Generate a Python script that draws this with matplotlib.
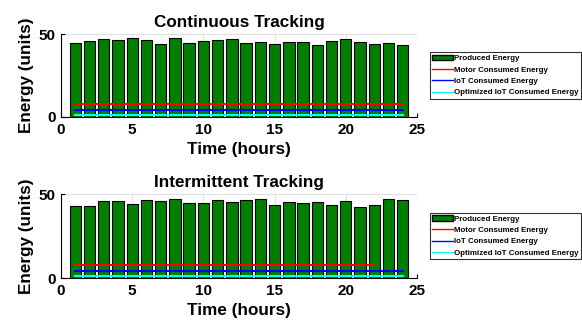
import matplotlib.pyplot as plt
from matplotlib.patches import Patch
from matplotlib.lines import Line2D

plt.rcParams['font.family'] = ['Liberation Sans', 'DejaVu Sans']
plt.rcParams['font.weight'] = 'bold'

hours = list(range(1, 25))
produced_cont = [44.6, 45.6, 47.0, 46.2, 47.4, 46.6, 43.8, 47.6, 44.8, 45.8, 46.4, 47.0,
                 44.6, 45.2, 43.8, 45.2, 45.2, 43.6, 46.0, 47.2, 45.0, 43.8, 44.4, 43.2]
produced_int = [43.1, 42.8, 45.6, 45.6, 44.0, 46.2, 45.8, 47.0, 44.8, 44.8, 46.4, 45.2,
                46.2, 47.0, 43.5, 45.4, 44.6, 45.4, 43.5, 45.8, 42.5, 43.5, 47.0, 46.2]
motor_energy = 8
iot_energy = 4
opt_iot_energy = 1
motor_hours_cont = (1, 24)
motor_hours_int = (1, 22)

titles = ["Continuous Tracking", "Intermittent Tracking"]
legend_labels = ["Produced Energy", "Motor Consumed Energy", "IoT Consumed Energy",
                 "Optimized IoT Consumed Energy"]


def draw_panel(ax, produced, motor_span, title):
    ax.bar(hours, produced, width=0.8, color='#007f00', edgecolor='black', linewidth=0.8, zorder=2)
    ax.plot(motor_span, [motor_energy, motor_energy], c='red', lw=1.5, zorder=3)
    ax.plot([1, 24], [iot_energy, iot_energy], c='blue', lw=1.5, zorder=3)
    ax.plot([1, 24], [opt_iot_energy, opt_iot_energy], c='cyan', lw=1.5, zorder=3)
    ax.set_xlim(0, 25)
    ax.set_ylim(0, 50)
    ax.set_xticks([0, 5, 10, 15, 20, 25])
    ax.set_yticks([0, 50])
    ax.grid(True, color='#e0e0e0', lw=0.8, zorder=0)
    ax.set_axisbelow(True)
    ax.spines['top'].set_visible(False)
    ax.spines['right'].set_visible(False)
    ax.tick_params(labelsize=11, length=3, direction='in', pad=4)
    for lab in ax.get_xticklabels() + ax.get_yticklabels():
        lab.set_fontweight('bold')
    ax.set_title(title, fontsize=12.3, fontweight='bold', pad=5)
    ax.set_xlabel("Time (hours)", fontsize=12.3, fontweight='bold', labelpad=4)
    ax.set_ylabel("Energy (units)", fontsize=12.3, fontweight='bold', labelpad=3)

    handles = [Patch(facecolor='#007f00', edgecolor='black'),
               Line2D([], [], c='red', lw=1), Line2D([], [], c='blue', lw=1),
               Line2D([], [], c='cyan', lw=1)]
    leg = ax.legend(handles, legend_labels, loc='center left', bbox_to_anchor=(1.036, 0.5),
                    prop={'size': 5.65, 'weight': 'bold'}, frameon=True, fancybox=False,
                    handlelength=2.6, handletextpad=0.2, borderpad=0.3, labelspacing=0.5,
                    borderaxespad=0.0)
    leg.get_frame().set_edgecolor('black')
    leg.get_frame().set_linewidth(0.8)


fig = plt.figure(figsize=(5.82, 3.29), dpi=100)
ax1 = fig.add_axes([61 / 582, 1 - 117 / 329, 356 / 582, 83 / 329])
ax2 = fig.add_axes([61 / 582, 1 - 278 / 329, 356 / 582, 84 / 329])
draw_panel(ax1, produced_cont, motor_hours_cont, titles[0])
draw_panel(ax2, produced_int, motor_hours_int, titles[1])

fig.savefig('out.png', dpi=100)
